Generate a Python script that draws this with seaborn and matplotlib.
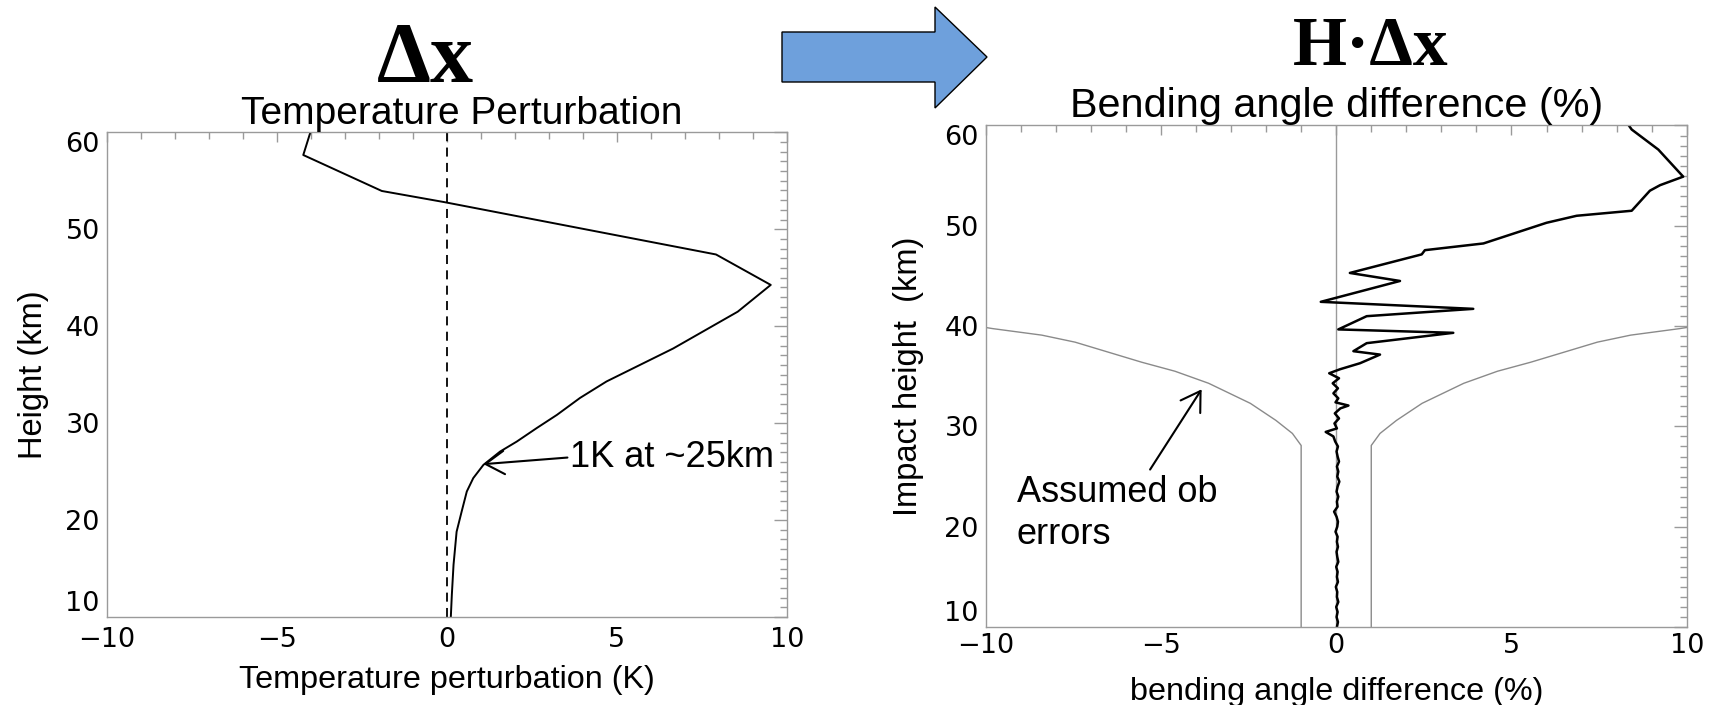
import matplotlib
matplotlib.use("Agg")
import matplotlib.pyplot as plt
from matplotlib.patches import Polygon
from matplotlib.ticker import MultipleLocator
import seaborn as sns

# ---------------- data ----------------
# Left panel: temperature perturbation profile (K) vs height (km)
temp_height = [10.0, 12.3, 15.4, 18.8, 20.9, 22.95, 24.33, 25.7, 27.07, 28.1, 29.5,
               30.85, 32.6, 34.3, 37.7, 41.5, 44.26, 47.4, 52.8, 53.95, 57.66, 59.9, 60.3]
temp_pert = [0.12, 0.15, 0.20, 0.29, 0.44, 0.59, 0.78, 1.08, 1.57, 2.06, 2.65,
             3.24, 3.92, 4.70, 6.66, 8.56, 9.53, 7.92, -0.07, -1.91, -4.22, -4.02, -3.98]

# Right panel: bending angle difference (%) vs impact height (km)
bend_height = [10.0, 10.5, 11.0, 11.5, 12.0, 12.5, 13.0, 13.5, 14.0, 14.5, 15.0, 15.5,
               16.0, 16.5, 17.0, 17.5, 18.0, 18.5, 19.0, 19.5, 20.0, 20.5, 21.0, 21.5,
               22.0, 22.5, 23.0, 23.5, 24.0, 24.5, 25.0, 25.5, 26.0, 26.5, 27.0, 27.5,
               28.0, 28.5, 29.0, 29.45, 29.8, 30.3, 30.8, 31.3, 31.8, 32.08, 32.4, 32.8,
               33.3, 33.8, 34.3, 34.8, 35.3, 35.7, 36.3, 37.16, 37.5, 38.3, 39.33, 39.67,
               40.99, 41.72, 42.42, 44.5, 45.3, 47.15, 47.57, 48.24, 50.3, 51.0, 51.5,
               53.5, 54.05, 54.9, 57.6, 59.6, 60.5]
bend_diff = [0.02, 0.05, 0.01, 0.04, 0.00, 0.06, 0.02, 0.03, -0.01, 0.05, 0.02, 0.04,
             0.00, 0.06, 0.03, 0.01, 0.05, 0.02, 0.04, -0.02, 0.03, 0.05, 0.01, -0.06,
             0.04, 0.02, 0.06, 0.01, 0.04, 0.09, 0.03, 0.06, 0.02, 0.08, 0.04, 0.01,
             0.05, -0.03, -0.08, -0.30, 0.02, -0.05, 0.08, -0.04, 0.12, 0.35, -0.02, 0.06,
             -0.08, 0.05, -0.10, 0.08, -0.20, 0.11, 0.68, 1.25, 0.49, 0.87, 3.34, 0.06,
             0.87, 3.91, -0.44, 1.82, 0.39, 2.44, 2.53, 4.20, 6.00, 6.86, 8.43,
             8.95, 9.24, 9.90, 9.19, 8.43, 8.25]

# Assumed observation error envelope (%) vs impact height (km)
err_height = [10.0, 28.1, 29.3, 30.6, 32.3, 34.3, 35.5, 36.4, 37.4, 38.4, 39.1, 39.75, 40.2]
err_pct = [1.0, 1.0, 1.25, 1.72, 2.45, 3.64, 4.6, 5.55, 6.5, 7.45, 8.4, 9.8, 10.6]

x_ticks = [-10, -5, 0, 5, 10]
y_ticks = [10, 20, 30, 40, 50, 60]

# ---------------- style ----------------
sns.set_style("white")
plt.rcParams["font.family"] = ["Liberation Sans", "DejaVu Sans"]
plt.rcParams["text.color"] = "black"
plt.rcParams["axes.labelcolor"] = "black"
plt.rcParams["axes.titlecolor"] = "black"

GRAY = "#9a9a9a"
fig = plt.figure(figsize=(17.11, 7.05), dpi=100)
ax1 = fig.add_axes([0.0624, 0.1248, 0.3974, 0.6875])
ax2 = fig.add_axes([0.5761, 0.1106, 0.4097, 0.7114])

# left panel
ax1.axvline(0, color="black", lw=1.3, ls=(0, (5, 3.5)), zorder=1)
sns.lineplot(x=temp_pert, y=temp_height, sort=False, estimator=None,
             color="black", lw=1.4, ax=ax1)

# right panel
ax2.axvline(0, color=GRAY, lw=1.0, zorder=1)
sns.lineplot(x=[-v for v in err_pct], y=err_height, sort=False, estimator=None,
             color="#8a8a8a", lw=1.0, ax=ax2)
sns.lineplot(x=err_pct, y=err_height, sort=False, estimator=None,
             color="#8a8a8a", lw=1.0, ax=ax2)
sns.lineplot(x=bend_diff, y=bend_height, sort=False, estimator=None,
             color="black", lw=1.8, ax=ax2)

for ax, xpad in ((ax1, 7), (ax2, 4)):
    ax.set_xlim(-10, 10)
    ax.set_ylim(10, 60)
    ax.set_xticks(x_ticks)
    ax.set_yticks(y_ticks)
    ax.xaxis.set_minor_locator(MultipleLocator(1))
    ax.yaxis.set_minor_locator(MultipleLocator(1))
    ax.tick_params(which="both", direction="in", top=True, right=True,
                   color=GRAY, width=1.0, labelsize=19.5, labelcolor="black",
                   labelfontfamily="DejaVu Sans")
    ax.tick_params(axis="x", which="major", length=7.2, pad=xpad)
    ax.tick_params(axis="y", which="major", length=9.6, pad=5)
    ax.tick_params(which="minor", length=4.8)
    for sp in ax.spines.values():
        sp.set_color(GRAY)
        sp.set_linewidth(1.0)
    yt = ax.yaxis.get_major_ticks()
    yt[0].label1.set_va("bottom")
    yt[-1].label1.set_va("top")

t1 = ax1.set_title("Temperature Perturbation", fontsize=28, pad=6)
t1.set_x(0.522)
ax1.set_xlabel("Temperature perturbation (K)", fontsize=23.3, labelpad=9)
ax1.set_ylabel("Height (km)", fontsize=23.5, labelpad=12)

ax2.set_title("Bending angle difference (%)", fontsize=29.8, pad=6)
ax2.set_xlabel("bending angle difference (%)", fontsize=23.3, labelpad=13)
ax2.set_ylabel("Impact height  (km)", fontsize=23.5, labelpad=15)

# annotations
arrow_kw = dict(arrowstyle="->,head_length=0.45,head_width=0.28", color="black",
                lw=1.5, shrinkA=0, shrinkB=0, mutation_scale=30)
ax1.annotate("", xy=(1.08, 25.77), xytext=(3.55, 26.45), arrowprops=arrow_kw)
ax1.text(3.62, 25.5, "1K at ~25km", fontsize=26, va="baseline", ha="left")

ax2.annotate("", xy=(-3.84, 33.7), xytext=(-5.31, 25.7), arrowprops=arrow_kw)
ax2.text(-9.12, 25.15, "Assumed ob\nerrors", fontsize=26, va="top", ha="left",
         linespacing=1.25)

# big headings
fig.text(425 / 1711, 1 - 82 / 705, "Δx", fontsize=62, fontweight="bold",
         family="Liberation Serif", ha="center", va="baseline")
fig.text(1371 / 1711, 1 - 65 / 705, "H·Δx", fontsize=50, fontweight="bold",
         family="Liberation Serif", ha="center", va="baseline")

# block arrow between panels
pts_px = [(782, 32), (935, 32), (935, 7), (987, 57), (935, 108), (935, 82), (782, 82)]
pts = [(x / 1711, 1 - y / 705) for x, y in pts_px]
fig.add_artist(Polygon(pts, closed=True, facecolor="#6ea0dc", edgecolor="black",
                       lw=1.0, transform=fig.transFigure))

fig.savefig("out.png", dpi=100)
